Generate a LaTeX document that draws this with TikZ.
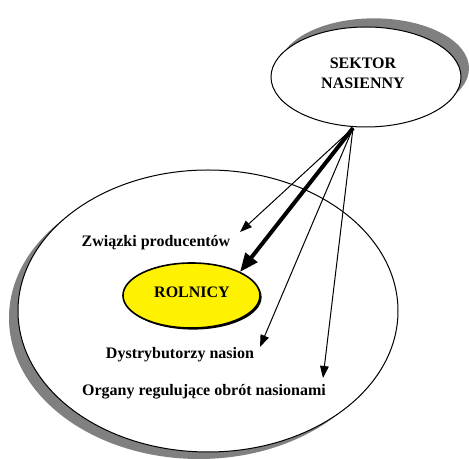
\documentclass[tikz,border=0pt]{standalone}
\usepackage{fontspec}
\setmainfont{Liberation Serif}
\usetikzlibrary{shapes.geometric,arrows.meta,shadows}
\begin{document}
\begin{tikzpicture}[x=0.75pt,y=-0.75pt,
  lbl/.style={font=\fontsize{12}{15}\selectfont\bfseries, inner sep=0pt, align=center},
  oval/.style={ellipse, draw, line width=0.75pt, fill=white, inner sep=0pt},
  thinarrow/.style={line width=0.75pt, -{Triangle[length=9pt,width=6.5pt]}},
  thickarrow/.style={line width=3pt, -{Triangle[length=14pt,width=11pt]}}
]
\useasboundingbox (0,0) rectangle (469,459);
% big ellipse
\node[oval, minimum width=285pt, minimum height=211.5pt,
  drop shadow={shadow xshift=-6.75pt, shadow yshift=-5.25pt, fill=gray, opacity=1}]
  (outer) at (208,311) {};
% sektor ellipse
\node[oval, minimum width=142.5pt, minimum height=75pt,
  drop shadow={shadow xshift=6pt, shadow yshift=6.5pt, fill=gray, opacity=1}]
  (sektor) at (366,77) {};
\node[lbl] (sektortxt) at (363,73) {SEKTOR\\NASIENNY};
% rolnicy
\node[ellipse, draw, line width=1.2pt, fill=yellow, inner sep=0pt,
  minimum width=102.75pt, minimum height=48.75pt,
  drop shadow={shadow xshift=1.2pt, shadow yshift=-1.2pt, fill=black, opacity=1}]
  (rolnicy) at (191.5,295.5) {};
\node[lbl] (rolnicytxt) at (192,292) {ROLNICY};
% labels
\node[lbl] (zwiazki) at (156,243) {Związki producentów};
\node[lbl] (dystr) at (180,355) {Dystrybutorzy nasion};
\node[lbl] (organy) at (204,392) {Organy regulujące obrót nasionami};
% arrow endpoints
\coordinate (src) at (353,128);
\coordinate (t1) at (240,232);
\coordinate (t2) at (240,272);
\coordinate (t3) at (260,347);
\coordinate (t4) at (323,378);
\draw[thinarrow] (src) -- (t1);
\draw[thickarrow] (src) -- (t2);
\draw[thinarrow] (src) -- (t3);
\draw[thinarrow] (src) -- (t4);
\end{tikzpicture}
\end{document}
